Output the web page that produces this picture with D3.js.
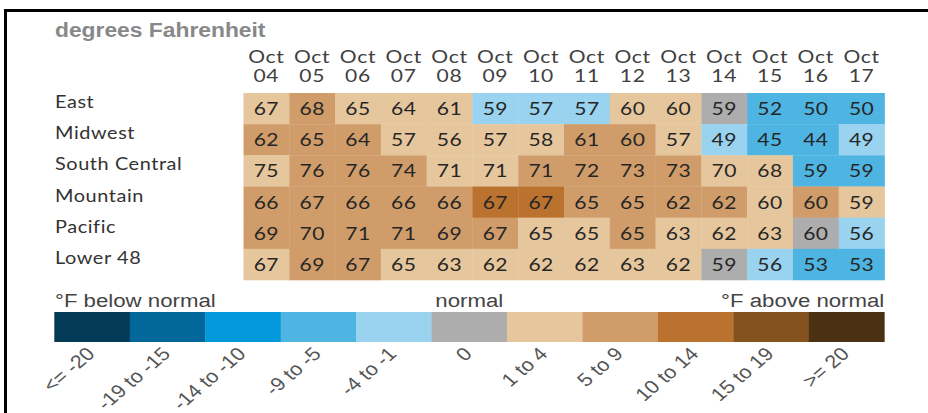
<!DOCTYPE html>
<html><head><meta charset="utf-8">
<script src="https://cdn.jsdelivr.net/npm/d3@7/dist/d3.min.js"></script>
<style>html,body{margin:0;padding:0;background:#fff;overflow:hidden}svg{display:block}</style>
</head><body>
<svg id="chart"></svg>
<script>
// ---- data ----
const title = "degrees Fahrenheit";
const regions = ["East", "Midwest", "South Central", "Mountain", "Pacific", "Lower 48"];
const dayLabels = ["04","05","06","07","08","09","10","11","12","13","14","15","16","17"];
const monthLabel = "Oct";

const tempEast         = [67, 68, 65, 64, 61, 59, 57, 57, 60, 60, 59, 52, 50, 50];
const tempMidwest      = [62, 65, 64, 57, 56, 57, 58, 61, 60, 57, 49, 45, 44, 49];
const tempSouthCentral = [75, 76, 76, 74, 71, 71, 71, 72, 73, 73, 70, 68, 59, 59];
const tempMountain     = [66, 67, 66, 66, 66, 67, 67, 65, 65, 62, 62, 60, 60, 59];
const tempPacific      = [69, 70, 71, 71, 69, 67, 65, 65, 65, 63, 62, 63, 60, 56];
const tempLower48      = [67, 69, 67, 65, 63, 62, 62, 62, 63, 62, 59, 56, 53, 53];

// anomaly bin index (into legendLabels) for each cell
const binEast         = [6, 7, 6, 6, 6, 4, 4, 4, 6, 6, 5, 3, 3, 3];
const binMidwest      = [7, 7, 7, 6, 6, 6, 6, 7, 7, 6, 4, 3, 3, 4];
const binSouthCentral = [6, 7, 7, 7, 6, 6, 7, 7, 7, 7, 6, 6, 3, 3];
const binMountain     = [7, 7, 7, 7, 7, 8, 8, 7, 7, 7, 7, 6, 7, 6];
const binPacific      = [7, 7, 7, 7, 7, 7, 6, 6, 7, 6, 6, 6, 5, 4];
const binLower48      = [6, 7, 7, 6, 6, 6, 6, 6, 6, 6, 5, 4, 3, 3];

const legendLabels = ["<= -20","-19 to -15","-14 to -10","-9 to -5","-4 to -1","0","1 to 4","5 to 9","10 to 14","15 to 19",">= 20"];
const legendColors = ["#033b56","#02679a","#0399da","#4eb5e3","#9ad3ef","#adadad","#e6c69c","#d09d6a","#ba722e","#84521f","#4b3013"];
const legendBelow = "°F below normal";
const legendNormal = "normal";
const legendAbove = "°F above normal";

// ---- layout ----
const W = 928, H = 413, SX = 1.17;
const VW = W / SX;
const temps = [tempEast, tempMidwest, tempSouthCentral, tempMountain, tempPacific, tempLower48];
const bins = [binEast, binMidwest, binSouthCentral, binMountain, binPacific, binLower48];

const svg = d3.select("#chart")
  .attr("width", W).attr("height", H)
  .attr("viewBox", `0 0 ${VW} ${H}`)
  .attr("preserveAspectRatio", "none");

const gridFont = "Lato, 'Open Sans', sans-serif";
const sansFont = "'Liberation Sans', Arial, sans-serif";

// frame
svg.append("rect").attr("x", 4 / SX).attr("y", 9).attr("width", VW).attr("height", 3).attr("fill", "#000");
svg.append("rect").attr("x", 4 / SX).attr("y", 9).attr("width", 3 / SX).attr("height", H).attr("fill", "#000");

// title
svg.append("text").attr("x", 55 / SX).attr("y", 37)
  .attr("font-family", sansFont).attr("font-weight", "bold").attr("font-size", 19.5)
  .attr("fill", "#888").text(title);

const x = d3.scaleBand().domain(dayLabels).range([243.5 / SX, 884.5 / SX]);
const y = d3.scaleBand().domain(regions).range([93, 280]);
const color = d3.scaleOrdinal().domain(legendLabels).range(legendColors);

// column headers
const hdr = svg.append("g").attr("font-family", gridFont).attr("font-size", 18).attr("letter-spacing", 0.6)
  .attr("fill", "#404040").attr("text-anchor", "middle");
hdr.selectAll("text.m").data(dayLabels).join("text").attr("class", "m")
  .attr("x", d => x(d) + x.bandwidth() / 2).attr("y", 63).text(monthLabel);
hdr.selectAll("text.d").data(dayLabels).join("text").attr("class", "d")
  .attr("x", d => x(d) + x.bandwidth() / 2).attr("y", 82.5).text(d => d);

// row labels
svg.append("g").attr("font-family", gridFont).attr("font-size", 17).attr("letter-spacing", 0.5).attr("fill", "#333")
  .selectAll("text").data(regions).join("text")
  .attr("x", 55 / SX).attr("y", d => y(d) + y.bandwidth() / 2 - 0.5).text(d => d);

// cells
const cells = [];
regions.forEach((r, i) => dayLabels.forEach((d, j) => cells.push({ r, d, v: temps[i][j], b: legendLabels[bins[i][j]] })));

svg.append("g").selectAll("rect").data(cells).join("rect")
  .attr("x", c => x(c.d)).attr("y", c => y(c.r))
  .attr("width", x.bandwidth() + 0.3).attr("height", y.bandwidth() + 0.3)
  .attr("fill", c => color(c.b));

svg.append("g").attr("font-family", gridFont).attr("font-size", 18).attr("letter-spacing", 0.4).attr("fill", "#262626").attr("text-anchor", "middle")
  .selectAll("text").data(cells).join("text")
  .attr("x", c => x(c.d) + x.bandwidth() / 2).attr("y", c => y(c.r) + y.bandwidth() / 2 + 6.5)
  .text(c => c.v);

// legend
const lx = d3.scaleBand().domain(legendLabels).range([54.3 / SX, 884.3 / SX]);
const lg = svg.append("g");
lg.selectAll("rect").data(legendLabels).join("rect")
  .attr("x", d => lx(d)).attr("y", 312).attr("width", lx.bandwidth() + 0.3).attr("height", 30)
  .attr("fill", d => color(d));

const lt = lg.append("g").attr("font-family", sansFont).attr("font-size", 19).attr("fill", "#444");
lt.append("text").attr("x", 55 / SX).attr("y", 307).text(legendBelow);
lt.append("text").attr("x", lx("0") + lx.bandwidth() / 2).attr("y", 307).attr("text-anchor", "middle").text(legendNormal);
lt.append("text").attr("x", 884.3 / SX).attr("y", 307).attr("text-anchor", "end").text(legendAbove);

lg.append("g").attr("font-family", sansFont).attr("font-size", 18.5).attr("fill", "#555").attr("text-anchor", "end")
  .selectAll("text").data(legendLabels).join("text")
  .attr("transform", d => `translate(${lx(d) + lx.bandwidth() / 2 + 4 / SX},355) rotate(-45)`)
  .text(d => d);
</script>
</body></html>
